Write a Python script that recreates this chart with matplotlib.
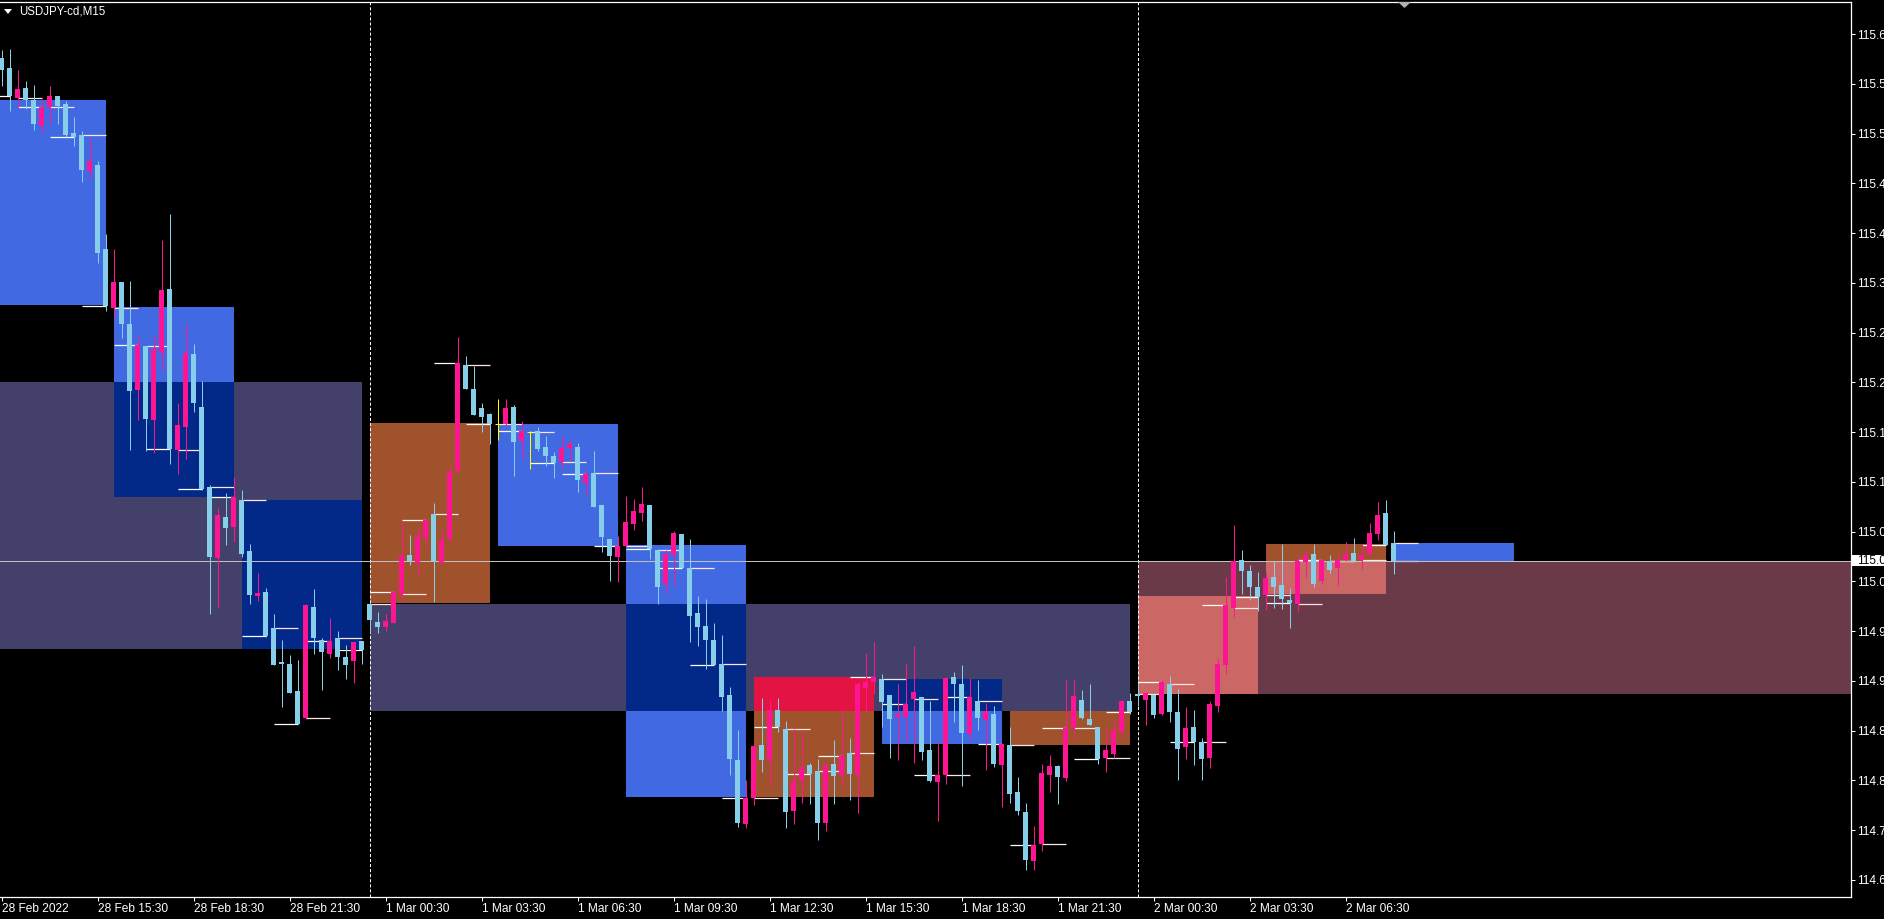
import numpy as np
import pandas as pd
import matplotlib
matplotlib.use("Agg")
import matplotlib.pyplot as plt
from matplotlib.patches import Rectangle, Polygon
from matplotlib.transforms import blended_transform_factory

plt.rcParams['font.family'] = ['Liberation Sans', 'DejaVu Sans']
plt.rcParams['lines.scale_dashes'] = False

# ---------------- data ----------------
symbol = "USDJPY-cd,M15"
first_bar_time = "2022-02-28 12:30"

opens = [115.598, 115.587, 115.554, 115.565, 115.552, 115.523, 115.544, 115.557, 115.548, 115.516,
         115.513, 115.474, 115.480, 115.387, 115.322, 115.351, 115.305, 115.231, 115.280, 115.198,
         115.272, 115.343, 115.165, 115.191, 115.271, 115.213, 115.124, 115.046, 115.091, 115.080,
         115.110, 115.054, 115.004, 115.008, 114.969, 114.931, 114.929, 114.899, 114.869, 114.992,
         114.955, 114.940, 114.957, 114.936, 114.932, 114.954, 114.995, 114.975, 114.970, 114.974,
         115.006, 115.049, 115.040, 115.068, 115.094, 115.040, 115.067, 115.142, 115.259, 115.233,
         115.212, 115.205, 115.194, 115.194, 115.213, 115.175, 115.185, 115.186, 115.169, 115.159,
         115.152, 115.167, 115.169, 115.129, 115.140, 115.104, 115.067, 115.047, 115.059, 115.083,
         115.096, 115.104, 115.055, 115.017, 115.049, 115.072, 115.035, 114.985, 114.971, 114.955,
         114.929, 114.894, 114.823, 114.752, 114.781, 114.839, 114.822, 114.878, 114.857, 114.766,
         114.799, 114.817, 114.810, 114.753, 114.818, 114.806, 114.830, 114.806, 114.902, 114.909,
         114.912, 114.894, 114.870, 114.870, 114.890, 114.892, 114.834, 114.798, 114.806, 114.914,
         114.907, 114.851, 114.888, 114.867, 114.873, 114.817, 114.839, 114.787, 114.765, 114.711,
         114.730, 114.806, 114.816, 114.803, 114.858, 114.889, 114.868, 114.859, 114.825, 114.829,
         114.854, 114.888, 114.896, 114.889, 114.894, 114.873, 114.906, 114.876, 114.837, 114.859,
         114.842, 114.825, 114.882, 114.928, 114.991, 115.044, 115.031, 115.014, 115.005, 115.025,
         115.016, 114.999, 114.995, 115.041, 115.050, 115.020, 115.043, 115.035, 115.044, 115.051,
         115.044, 115.050, 115.072, 115.096, 115.062]
highs = [115.607, 115.608, 115.585, 115.573, 115.569, 115.553, 115.568, 115.557, 115.551, 115.533,
         115.518, 115.510, 115.485, 115.404, 115.387, 115.351, 115.352, 115.291, 115.280, 115.291,
         115.397, 115.426, 115.217, 115.305, 115.282, 115.241, 115.127, 115.101, 115.118, 115.135,
         115.121, 115.061, 115.029, 115.013, 114.984, 114.955, 114.939, 114.933, 114.995, 115.012,
         114.957, 114.980, 114.965, 114.950, 114.953, 114.954, 114.997, 114.986, 114.984, 115.012,
         115.086, 115.071, 115.079, 115.088, 115.107, 115.078, 115.148, 115.290, 115.269, 115.258,
         115.217, 115.206, 115.222, 115.222, 115.215, 115.197, 115.186, 115.191, 115.181, 115.163,
         115.181, 115.177, 115.173, 115.142, 115.164, 115.104, 115.067, 115.070, 115.114, 115.111,
         115.124, 115.104, 115.056, 115.055, 115.076, 115.072, 115.067, 115.004, 115.001, 114.974,
         114.961, 114.903, 114.856, 114.800, 114.838, 114.891, 114.890, 114.891, 114.866, 114.857,
         114.855, 114.819, 114.824, 114.817, 114.845, 114.878, 114.847, 114.909, 114.941, 114.953,
         114.918, 114.894, 114.906, 114.929, 114.949, 114.892, 114.888, 114.842, 114.913, 114.920,
         114.927, 114.913, 114.911, 114.886, 114.882, 114.840, 114.859, 114.804, 114.775, 114.750,
         114.818, 114.828, 114.817, 114.911, 114.912, 114.900, 114.907, 114.859, 114.858, 114.868,
         114.889, 114.897, 114.908, 114.898, 114.894, 114.911, 114.915, 114.901, 114.881, 114.878,
         114.847, 114.888, 114.935, 115.025, 115.082, 115.055, 115.038, 115.030, 115.030, 115.043,
         115.061, 115.013, 115.048, 115.054, 115.061, 115.044, 115.049, 115.050, 115.064, 115.068,
         115.061, 115.085, 115.108, 115.110, 115.076]
lows = [115.568, 115.540, 115.543, 115.542, 115.519, 115.516, 115.526, 115.526, 115.511, 115.501,
        115.461, 115.466, 115.372, 115.319, 115.312, 115.289, 115.165, 115.198, 115.164, 115.162,
        115.254, 115.150, 115.139, 115.155, 115.207, 115.121, 114.984, 114.992, 115.060, 115.064,
        115.047, 114.995, 114.998, 114.959, 114.927, 114.881, 114.897, 114.862, 114.868, 114.940,
        114.900, 114.935, 114.922, 114.912, 114.908, 114.929, 114.963, 114.963, 114.965, 114.974,
        114.997, 115.038, 115.026, 115.058, 114.997, 115.040, 115.064, 115.142, 115.233, 115.204,
        115.185, 115.172, 115.176, 115.191, 115.137, 115.155, 115.144, 115.164, 115.148, 115.134,
        115.144, 115.153, 115.119, 115.116, 115.102, 115.052, 115.020, 115.019, 115.059, 115.077,
        115.087, 115.045, 114.995, 115.007, 115.016, 115.035, 114.953, 114.949, 114.923, 114.928,
        114.877, 114.806, 114.748, 114.747, 114.773, 114.809, 114.794, 114.854, 114.747, 114.752,
        114.775, 114.774, 114.734, 114.744, 114.774, 114.794, 114.778, 114.764, 114.877, 114.896,
        114.859, 114.825, 114.822, 114.842, 114.819, 114.823, 114.798, 114.755, 114.796, 114.864,
        114.794, 114.846, 114.856, 114.812, 114.815, 114.771, 114.775, 114.762, 114.701, 114.701,
        114.722, 114.787, 114.774, 114.799, 114.846, 114.868, 114.861, 114.818, 114.809, 114.825,
        114.847, 114.873, 114.882, 114.861, 114.869, 114.872, 114.864, 114.800, 114.824, 114.817,
        114.800, 114.814, 114.876, 114.918, 114.981, 115.006, 114.999, 114.987, 114.988, 114.991,
        114.990, 114.969, 114.987, 115.025, 115.014, 115.017, 115.029, 115.016, 115.043, 115.041,
        115.034, 115.047, 115.066, 115.060, 115.028]
closes = [115.585, 115.557, 115.564, 115.552, 115.526, 115.544, 115.557, 115.545, 115.513, 115.511,
          115.475, 115.485, 115.383, 115.324, 115.351, 115.305, 115.230, 115.281, 115.200, 115.277,
          115.342, 115.166, 115.193, 115.272, 115.217, 115.122, 115.047, 115.093, 115.079, 115.113,
          115.050, 115.005, 115.007, 114.960, 114.928, 114.929, 114.897, 114.862, 114.994, 114.957,
          114.942, 114.954, 114.936, 114.928, 114.953, 114.944, 114.977, 114.970, 114.976, 115.008,
          115.048, 115.043, 115.070, 115.088, 115.043, 115.066, 115.141, 115.261, 115.233, 115.204,
          115.202, 115.194, 115.194, 115.212, 115.174, 115.186, 115.185, 115.166, 115.159, 115.151,
          115.167, 115.172, 115.132, 115.139, 115.102, 115.069, 115.048, 115.059, 115.086, 115.098,
          115.106, 115.056, 115.014, 115.050, 115.074, 115.035, 114.982, 114.970, 114.955, 114.928,
          114.892, 114.824, 114.753, 114.781, 114.838, 114.823, 114.878, 114.859, 114.765, 114.799,
          114.815, 114.807, 114.753, 114.817, 114.805, 114.827, 114.807, 114.907, 114.909, 114.914,
          114.887, 114.868, 114.873, 114.884, 114.898, 114.831, 114.799, 114.806, 114.913, 114.907,
          114.852, 114.892, 114.869, 114.877, 114.818, 114.840, 114.785, 114.766, 114.712, 114.729,
          114.808, 114.816, 114.804, 114.858, 114.893, 114.869, 114.861, 114.824, 114.834, 114.856,
          114.888, 114.876, 114.893, 114.897, 114.872, 114.909, 114.876, 114.835, 114.858, 114.842,
          114.824, 114.884, 114.929, 114.994, 115.043, 115.031, 115.014, 115.003, 115.024, 115.014,
          115.001, 114.996, 115.043, 115.049, 115.017, 115.044, 115.033, 115.044, 115.050, 115.043,
          115.049, 115.074, 115.093, 115.060, 115.043]

# rectangles drawn on the chart (bar index from / to, price top / bottom)
box_start = [-3, 14, 30, -3, 46, 46, 62, 78, 94, 110, 126, 142, 142, 158, 174]
box_end = [13, 29, 45, 45, 61, 141, 77, 93, 109, 125, 141, 260, 157, 173, 189]
box_top = [115.552, 115.323, 115.110, 115.240, 115.195, 114.995, 115.194, 115.060,
           114.914, 114.912, 114.877, 115.043, 115.004, 115.061, 115.062]
box_bottom = [115.326, 115.113, 114.945, 114.945, 114.996, 114.877, 115.059, 114.782,
              114.782, 114.840, 114.839, 114.896, 114.896, 115.006, 115.043]
box_kind = ["blue", "blue", "blue", "purple", "sienna", "purple", "blue", "blue",
            "sienna", "blue", "sienna", "maroon", "sienna", "sienna", "blue"]

price_ticks = [115.625, 115.570, 115.515, 115.460, 115.405, 115.350, 115.295, 115.240, 115.185,
               115.130, 115.075, 115.020, 114.965, 114.910, 114.855, 114.800, 114.745, 114.690]
time_ticks = ["2022-02-28 12:30", "2022-02-28 15:30", "2022-02-28 18:30", "2022-02-28 21:30",
              "2022-03-01 00:30", "2022-03-01 03:30", "2022-03-01 06:30", "2022-03-01 09:30",
              "2022-03-01 12:30", "2022-03-01 15:30", "2022-03-01 18:30", "2022-03-01 21:30",
              "2022-03-02 00:30", "2022-03-02 03:30", "2022-03-02 06:30"]
time_tick_labels = ["28 Feb 2022", "28 Feb 15:30", "28 Feb 18:30", "28 Feb 21:30",
                    "1 Mar 00:30", "1 Mar 03:30", "1 Mar 06:30", "1 Mar 09:30",
                    "1 Mar 12:30", "1 Mar 15:30", "1 Mar 18:30", "1 Mar 21:30",
                    "2 Mar 00:30", "2 Mar 03:30", "2 Mar 06:30"]

# ---------------- layout / style ----------------
W, H = 1884, 919
AX_RIGHT, AX_TOP, AX_BOTTOM = 1851, 1.5, 897      # pixel edges of the chart area
BAR_PX = 8                                        # pixels per bar
TICK0_PX, STEP_PX = 34, 49.76                     # pixel of first price tick, px between ticks

box_rgb = {"blue": (65, 105, 225), "purple": (67, 65, 105),
           "sienna": (160, 82, 45), "maroon": (107, 58, 72)}
BULL = "#ff1493"
BEAR = "#87ceeb"
DOJI = "#ffff00"
FONT = 8.6


def c255(t):
    return tuple(v / 255 for v in t)


times = pd.date_range(first_bar_time, periods=len(opens), freq="15min")
x = np.arange(len(opens))
o, h, l, c = (np.array(v) for v in (opens, highs, lows, closes))

fig = plt.figure(figsize=(W / 100, H / 100), dpi=100, facecolor="black")
ax = fig.add_axes([0, (H - AX_BOTTOM) / H, AX_RIGHT / W, (AX_BOTTOM - AX_TOP) / H])
ax.set_facecolor("black")

step = price_ticks[0] - price_ticks[1]
ppx = STEP_PX / step                       # pixels per price unit
ax.set_ylim(price_ticks[0] - (AX_BOTTOM - TICK0_PX) / ppx,
            price_ticks[0] + (TICK0_PX - AX_TOP) / ppx)
ax.set_xlim(-1.5 / BAR_PX, (AX_RIGHT - 1.5) / BAR_PX)

# rectangles; where two overlap MT4 xor-s the colours
for s, e, t, b, k in zip(box_start, box_end, box_top, box_bottom, box_kind):
    ax.add_patch(Rectangle((s, b), e - s, t - b, fc=c255(box_rgb[k]), ec="none", zorder=1))
for i in range(len(box_start)):
    for j in range(i + 1, len(box_start)):
        x0, x1 = max(box_start[i], box_start[j]), min(box_end[i], box_end[j])
        y0, y1 = max(box_bottom[i], box_bottom[j]), min(box_top[i], box_top[j])
        if x1 > x0 and y1 > y0:
            mix = tuple(a ^ b for a, b in zip(box_rgb[box_kind[i]], box_rgb[box_kind[j]]))
            ax.add_patch(Rectangle((x0, y0), x1 - x0, y1 - y0, fc=c255(mix), ec="none", zorder=1.5))

# hourly open / close levels
for k in range(-3, len(x)):
    t = times[0] + pd.Timedelta(minutes=15 * k)
    if t.minute != 0:
        continue
    last = min(k + 3, len(x) - 1)
    if k >= 0:
        ax.hlines(o[k], k, k + 3, color="#ffe4e1", lw=0.9, zorder=2)
    if last >= 0:
        ax.hlines(c[last], k, k + 3, color="white", lw=0.9, zorder=2)

# day separators
for k in x[(times.hour == 0) & (times.minute == 0)]:
    ax.axvline(k, color="white", lw=0.72, ls=(0, (2.2, 1.45)), zorder=2.2)

# bid line
ax.axhline(c[-1], color="#c0c0c0", lw=0.72, zorder=2.5)

# candles
min_body = 1.0 / ppx
for mask, col in ((c > o, BULL), (c < o, BEAR)):
    ax.vlines(x[mask], l[mask], h[mask], color=col, lw=0.72, zorder=3)
    ax.bar(x[mask], np.maximum(np.abs(c[mask] - o[mask]), min_body),
           bottom=np.minimum(o[mask], c[mask]), width=5 / BAR_PX,
           color=col, linewidth=0, zorder=3)
dj = c == o
ax.vlines(x[dj], l[dj], h[dj], color=DOJI, lw=0.72, zorder=3)
ax.hlines(o[dj], x[dj] - 2.5 / BAR_PX, x[dj] + 2.5 / BAR_PX, color=DOJI, lw=0.72, zorder=3)

# axes
tick_idx = [times.get_loc(pd.Timestamp(t)) for t in time_ticks]
ax.set_xticks(tick_idx)
ax.set_xticklabels(time_tick_labels, ha="left")
ax.set_yticks(price_ticks)
ax.set_yticklabels([f"{p:.3f}" for p in price_ticks])
ax.yaxis.tick_right()
ax.tick_params(axis="both", colors="white", direction="out", length=3, width=0.72,
               labelsize=FONT)
ax.tick_params(axis="x", pad=1.2)
ax.tick_params(axis="y", pad=1.5)
for sp in ax.spines.values():
    sp.set_color("white")
    sp.set_linewidth(0.9)
ax.spines["left"].set_visible(False)

# current price tag on the price scale
trans = blended_transform_factory(ax.transAxes, ax.transData)
ax.add_patch(Rectangle((1.0006, c[-1] - 5.5 / ppx), 0.05, 11 / ppx, transform=trans,
                       fc="white", ec="none", clip_on=False, zorder=10))
ax.text(1 + 6 / AX_RIGHT, c[-1], f"{c[-1]:.3f}", transform=trans, color="black",
        fontsize=FONT, ha="left", va="center", clip_on=False, zorder=11)

# symbol caption and chart-shift marker
fig.text(19 / W, 1 - 11.5 / H, symbol, color="white", fontsize=8.3, ha="left", va="center")
fig.patches.append(Polygon([[4 / W, 1 - 9 / H], [12 / W, 1 - 9 / H], [8 / W, 1 - 14 / H]],
                           closed=True, transform=fig.transFigure, fc="white", ec="none"))
fig.patches.append(Polygon([[1398 / W, 1 - 2 / H], [1411 / W, 1 - 2 / H], [1404.5 / W, 1 - 8 / H]],
                           closed=True, transform=fig.transFigure, fc="#b0b0b0", ec="none"))

fig.savefig("out.png", dpi=100, facecolor="black")
